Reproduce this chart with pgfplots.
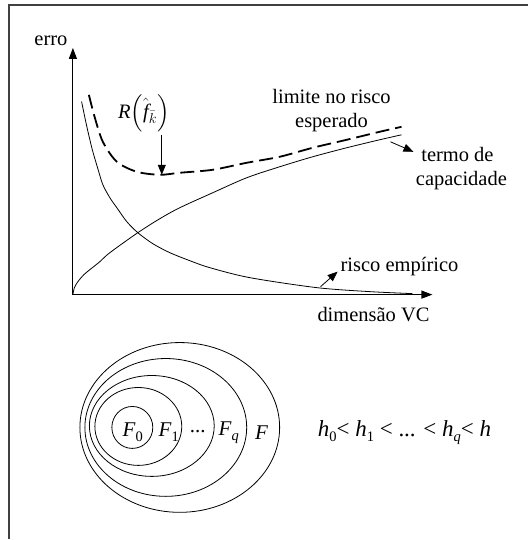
\documentclass[border=0pt]{standalone}
\usepackage{amsmath}
\usepackage{pgfplots}
\pgfplotsset{compat=1.18}
\usepackage{fontspec}
\setmainfont{Liberation Serif}
\newfontfamily\tnr{Liberation Serif}
\usetikzlibrary{arrows.meta}
\newcommand{\sub}[1]{\raisebox{-0.5ex}{\fontsize{14.5}{14.5}\selectfont #1}}
\begin{document}
\begin{tikzpicture}
\begin{axis}[width=529pt,height=540pt,scale only axis,
  xmin=0,xmax=529,ymin=0,ymax=540,hide axis,clip=false]
% bounding box
\path (axis cs:0,0) rectangle (axis cs:529,540);
% frame
\draw[line width=1.4pt,black!75] (axis cs:529,535) -- (axis cs:9,535) -- (axis cs:9,0);
% axes
\draw[line width=1.1pt,-{Triangle[length=11pt,width=8pt]}] (axis cs:73,245) -- (axis cs:73,492);
\draw[line width=1.1pt,-{Triangle[length=11pt,width=8pt]}] (axis cs:73,245) -- (axis cs:433,245);
% empirical risk
\addplot[smooth,black,line width=0.8pt] coordinates {
(81.7,438.3) (84,427) (87,413) (90,400) (93,388) (98,371) (103,355) (110,342) (117,332) (127,318) (138,307) (153,296) (170,287) (190,279) (210,272) (250,262) (317,252) (370,248) (413,246)};
% capacity term
\addplot[smooth,black,line width=0.8pt] coordinates {
(73,245) (74.5,252) (78,258) (84,265) (90,270) (100,278) (110,287) (138,307) (160,321) (180,332) (213,347) (247,362) (280,373) (313,383) (347,392) (380,400) (402,405)};
% bound on expected risk
\addplot[smooth,black,line width=1.8pt,dash pattern=on 14pt off 6pt] coordinates {
(89,445) (95,422) (103,398) (117,378) (137,368) (160,365) (180,367) (213,370) (247,377) (280,383) (313,392) (347,400) (380,408) (402,413)};
% labels
\node[font=\tnr\fontsize{20.5}{24}\selectfont] at (axis cs:51,499) {erro};
\node[font=\tnr\fontsize{20.5}{24}\selectfont] at (axis cs:374,225) {dimensão VC};
\node[font=\tnr\fontsize{20.5}{24}\selectfont] at (axis cs:400,273) {risco empírico};
\node[font=\tnr\fontsize{20.5}{24}\selectfont] at (axis cs:332,443) {limite no risco};
\node[font=\tnr\fontsize{20.5}{24}\selectfont] at (axis cs:332,417) {esperado};
\node[font=\tnr\fontsize{20.5}{24}\selectfont] at (axis cs:458,385) {termo de};
\node[font=\tnr\fontsize{20.5}{24}\selectfont] at (axis cs:462,359) {capacidade};
\node[font=\tnr\fontsize{20.5}{24}\selectfont] at (axis cs:144,427) {\textit{R}$\Bigl(\hat{\textit{f}}_{\bar{k}}\Bigr)$};
% annotation arrows
\draw[line width=0.8pt,-{Triangle[length=10pt,width=8pt]}] (axis cs:162,405) -- (axis cs:162,365);
\draw[line width=0.8pt,-{Triangle[length=10pt,width=8pt]}] (axis cs:391,398) -- (axis cs:414,388);
\draw[line width=0.8pt,-{Triangle[length=10pt,width=8pt]}] (axis cs:321,253) -- (axis cs:338,268);
% nested sets
\draw[line width=0.8pt] (axis cs:180,112) ellipse [x radius=100, y radius=85];
\draw[line width=0.8pt] (axis cs:166,112) ellipse [x radius=81, y radius=69];
\draw[line width=0.8pt] (axis cs:152,113.5) ellipse [x radius=62.5, y radius=50.5];
\draw[line width=0.8pt] (axis cs:138.5,113) ellipse [x radius=43.5, y radius=39];
\draw[line width=0.8pt] (axis cs:132.5,112) ellipse [x radius=20.5, y radius=21];
\node[font=\tnr\fontsize{21}{24}\selectfont] at (axis cs:133,107) {\textit{F}\sub{0}};
\node[font=\tnr\fontsize{21}{24}\selectfont] at (axis cs:169,107) {\textit{F}\sub{1}};
\node[font=\tnr\fontsize{21}{24}\selectfont] at (axis cs:198,108) {...};
\node[font=\tnr\fontsize{21}{24}\selectfont] at (axis cs:229,107) {\textit{F}\sub{\textit{q}}};
\node[font=\tnr\fontsize{21}{24}\selectfont] at (axis cs:262,107) {\textit{F}};
\node[font=\tnr\fontsize{23}{26}\selectfont] at (axis cs:405,107) {\textit{h}\sub{0}< \textit{h}\sub{1} < ... < \textit{h}\sub{\textit{q}}< \textit{h}};
\end{axis}
\end{tikzpicture}
\end{document}
